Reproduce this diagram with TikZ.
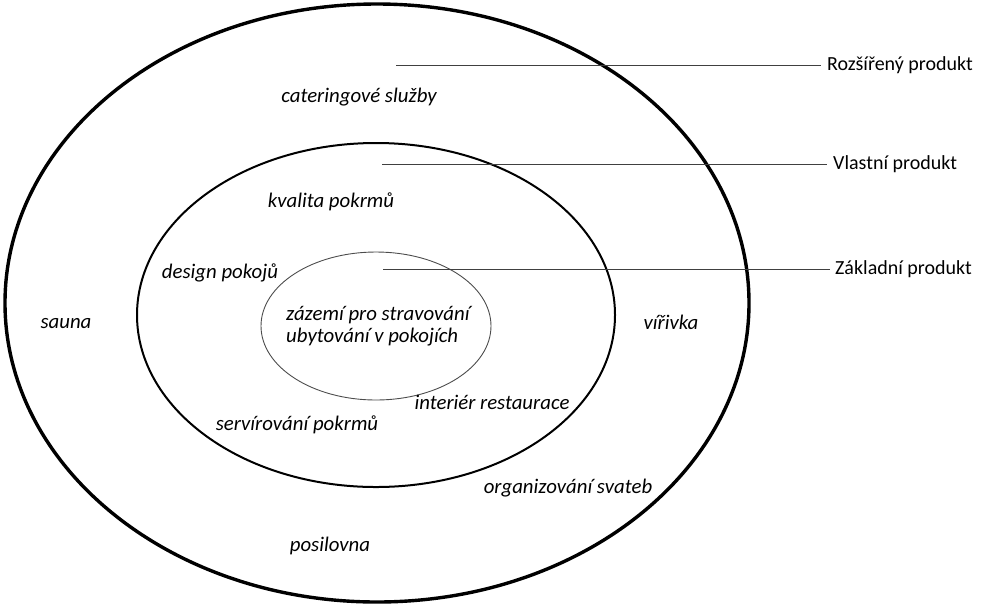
\documentclass[tikz,border=0pt]{standalone}
\usepackage{fontspec}
\setmainfont{Carlito}
\begin{document}
\begin{tikzpicture}[x=1pt,y=-1pt,
  txt/.style={font=\fontsize{20.8}{22}\selectfont\itshape, inner sep=0pt},
  lbl/.style={font=\fontsize{20}{22}\selectfont, inner sep=0pt, anchor=west},
  ring/.style={draw=black},
  lead/.style={draw=black!75, line width=0.9pt}]
\useasboundingbox (0,0) rectangle (981,606);
\draw[ring, line width=3.4pt] (377,303) ellipse [x radius=372, y radius=299];
\draw[ring, line width=2pt] (376,315) ellipse [x radius=239, y radius=172];
\draw[ring, draw=black!70, line width=0.9pt] (376,326) ellipse [x radius=115, y radius=74];

\node[txt] (catering) at (359,97) {cateringové služby};
\node[txt] (kvalita) at (331,202) {kvalita pokrmů};
\node[txt] (design) at (220,273) {design pokojů};
\node[txt, align=left, anchor=west] (zazemi) at (286,326) {zázemí pro stravování\\ubytování v pokojích};
\node[txt] (sauna) at (66,324) {sauna};
\node[txt] (virivka) at (671,322) {vířivka};
\node[txt] (interier) at (492,402) {interiér restaurace};
\node[txt] (servirovani) at (297,425) {servírování pokrmů};
\node[txt] (svateb) at (568,488) {organizování svateb};
\node[txt] (posilovna) at (330,546) {posilovna};

\node[lbl] (rozsireny) at (827,65) {Rozšířený produkt};
\node[lbl] (vlastni) at (833,164) {Vlastní produkt};
\node[lbl] (zakladni) at (835,269) {Základní produkt};

\coordinate (r0) at (396,65);
\coordinate (v0) at (382,164);
\coordinate (z0) at (383,269);
\draw[lead] (r0) -- ([xshift=-6pt]rozsireny.west);
\draw[lead] (v0) -- ([xshift=-6pt]vlastni.west);
\draw[lead] (z0) -- ([xshift=-5pt]zakladni.west);
\end{tikzpicture}
\end{document}
